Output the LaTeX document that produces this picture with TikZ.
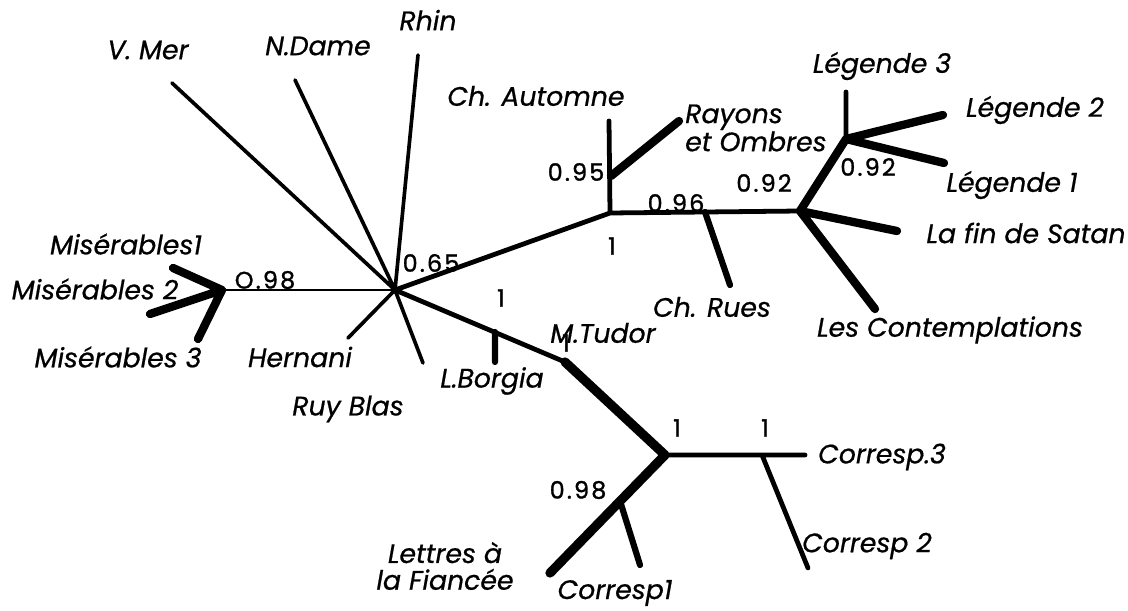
\documentclass[tikz,border=0pt]{standalone}
\usepackage{fontspec}
\setmainfont{Poppins}
\newfontfamily\lblfont{Poppins}[FakeBold=0.7]
\newfontfamily\numfont{Poppins}[FakeBold=1.2,LetterSpace=9]
\begin{document}
\begin{tikzpicture}[x=0.025cm,y=-0.025cm,line join=round,line cap=round,
  wa/.style={line width=2.6pt},wb/.style={line width=3.4pt},wc/.style={line width=5.9pt},
  lbl/.style={font=\lblfont\fontsize{19}{19}\selectfont\itshape,inner sep=0pt},
  num/.style={font=\numfont\fontsize{17}{17}\selectfont,inner sep=0pt}]
\useasboundingbox (0,0) rectangle (1128,610);
% inner nodes
\coordinate (hub) at (395,290);\coordinate (mis) at (222,290);\coordinate (aut) at (610,213);
\coordinate (ray) at (611,176);\coordinate (rue) at (705,212);\coordinate (sat) at (800,211);
\coordinate (leg) at (846,139);\coordinate (tud) at (565,362);\coordinate (bor) at (495,332);
\coordinate (cor) at (665,455);\coordinate (crt) at (762,455);\coordinate (let) at (620,501);
% leaf ends
\coordinate (e-vmer) at (172,83);\coordinate (e-ndame) at (295,80);\coordinate (e-rhin) at (418,55);
\coordinate (e-hern) at (348,338);\coordinate (e-ruy) at (423,363);
\coordinate (e-mis1) at (173,268);\coordinate (e-mis2) at (150,314);\coordinate (e-mis3) at (198,339);
\coordinate (e-aut) at (609,121);\coordinate (e-ray) at (679,121);\coordinate (e-rue) at (730,285);
\coordinate (e-leg3) at (846,92);\coordinate (e-leg2) at (943,115);\coordinate (e-leg1) at (944,163);
\coordinate (e-sat) at (897,231);\coordinate (e-con) at (875,309);\coordinate (e-bor) at (495,362);
\coordinate (e-cor3) at (805,455);\coordinate (e-cor2) at (808,568);\coordinate (e-let) at (550,573);
\coordinate (e-cor1) at (640,565);
% branches
\draw[wa] (hub)--(e-vmer) (hub)--(e-ndame) (hub)--(e-rhin) (hub)--(e-hern) (hub)--(e-ruy);
\draw[line width=2pt] (hub)--(mis);
\draw[wc] (mis)--(e-mis1) (mis)--(e-mis2) (mis)--(e-mis3);
\draw[wb] (hub)--(aut)--(sat) (aut)--(e-aut) (leg)--(e-leg3);
\draw[wc] (ray)--(e-ray) (sat)--(leg)--(e-leg2) (leg)--(e-leg1) (sat)--(e-sat) (sat)--(e-con);
\draw[line width=4.4pt] (rue)--(e-rue) (bor)--(e-bor) (let)--(e-cor1);
\draw[wb] (hub)--(tud) (cor)--(crt)--(e-cor3) (crt)--(e-cor2);
\draw[line width=6.6pt] (tud)--(cor)--(e-let);
% labels
\node[lbl] (vmer) at (148,50) {V. Mer};\node[lbl] (ndame) at (318,46) {N.Dame};\node[lbl] (rhin) at (428,20) {Rhin};
\node[lbl] (aut-l) at (536,96) {Ch. Automne};
\node[lbl,align=left,anchor=west,font=\lblfont\fontsize{19}{14}\selectfont\itshape] (ray-l) at (685,128) {Rayons\\et Ombres};
\node[lbl] (leg3) at (882,66) {Légende 3};\node[lbl] (leg2) at (1035,110) {Légende 2};
\node[lbl] (leg1) at (1012,185) {Légende 1};\node[lbl] (sat-l) at (1026,233) {La fin de Satan};
\node[lbl] (con) at (950,330) {Les Contemplations};\node[lbl] (rue-l) at (712,307) {Ch. Rues};
\node[lbl] (tud-l) at (603,333) {M.Tudor};\node[lbl] (bor-l) at (492,381) {L.Borgia};
\node[lbl] (hern) at (300,357) {Hernani};\node[lbl] (ruy) at (348,409) {Ruy Blas};
\node[lbl] (mis1) at (126,244) {Misérables1};\node[lbl] (mis2) at (95,289) {Misérables 2};
\node[lbl] (mis3) at (118,357) {Misérables 3};\node[lbl] (cor3) at (882,457) {Corresp.3};
\node[lbl] (cor2) at (867,546) {Corresp 2};\node[lbl] (cor1) at (615,593) {Corresp1};
\node[lbl,align=center] (let-l) at (445,566) {Lettres à\\la Fiancée};
% support values
\node[num] at (265,280) {O.98};\node[num] at (431,263) {0.65};\node[num] at (576,172) {0.95};
\node[num] at (612,246) {1};\node[num] at (676,203) {0.96};\node[num] at (764,183) {0.92};
\node[num] at (868,167) {0.92};\node[num] at (501,298) {1};\node[num] at (566,343) {1};
\node[num] at (677,428) {1};\node[num] at (765,428) {1};\node[num] at (578,490) {0.98};
\end{tikzpicture}
\end{document}
